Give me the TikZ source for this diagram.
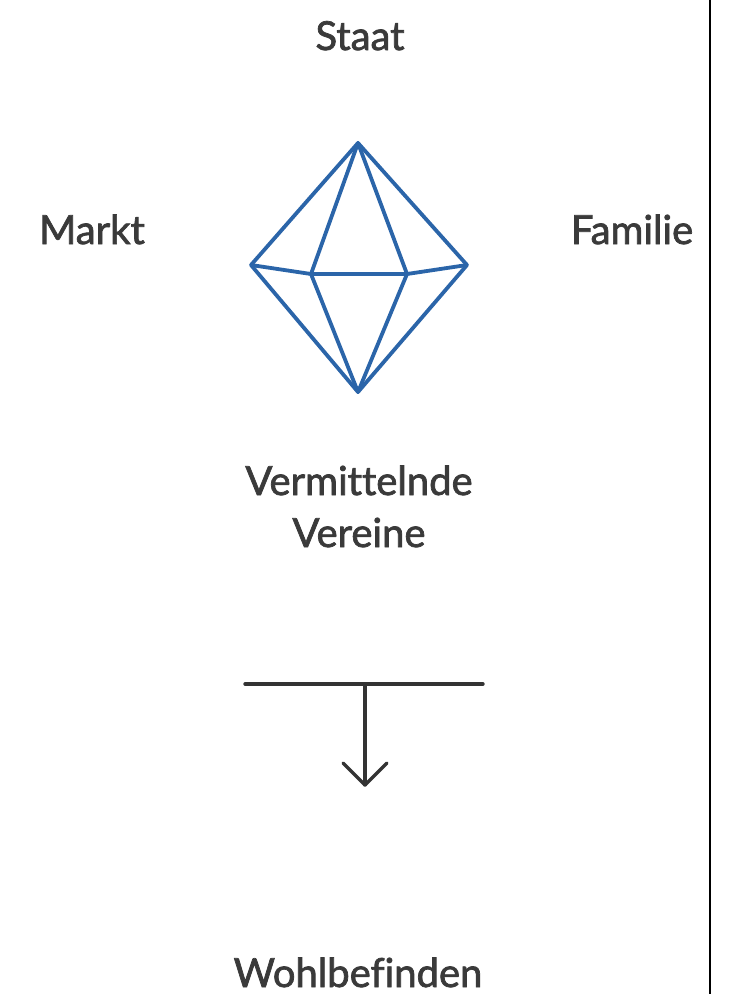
\documentclass[tikz,border=0pt]{standalone}
\usepackage{fontspec}
\newfontfamily\lblfont{Lato}[FakeBold=1.8, Ligatures=NoCommon]
\usetikzlibrary{arrows.meta}
\definecolor{txtgray}{HTML}{3A3A3A}
\definecolor{diablue}{HTML}{2B65A9}
\definecolor{arrgray}{HTML}{333333}
\tikzset{
  lbl/.style={anchor=base, text=txtgray, font=\lblfont\fontsize{40}{53}\selectfont, inner sep=0pt},
  edge/.style={draw=diablue, line width=3.8pt, line join=round, line cap=round},
  flow/.style={draw=arrgray, line width=3.4pt, line cap=round, line join=round}
}
\begin{document}
\begin{tikzpicture}[x=1pt,y=-1pt]
\useasboundingbox (0,0) rectangle (735,994);
% labels
\node[lbl] (staat) at (360,50) {Staat};
\node[lbl] (markt) at (92,244) {Markt};
\node[lbl] (familie) at (632,244) {Familie};
\node[lbl] (verm) at (359,495) {Vermittelnde};
\node[lbl] (ver) at (359,547) {Vereine};
\node[lbl] (wohl) at (358,987) {Wohlbefinden};
% diamond (octahedron)
\coordinate (T) at (358,143);
\coordinate (B) at (358,392);
\coordinate (L) at (251,265);
\coordinate (R) at (467,265);
\coordinate (IL) at (311,274);
\coordinate (IR) at (407,274);
\draw[edge] (T) -- (L) -- (B) -- (R) -- cycle;
\draw[edge] (T) -- (IL) -- (B);
\draw[edge] (T) -- (IR) -- (B);
\draw[edge] (L) -- (IL) -- (IR) -- (R);
% bar and arrow
\coordinate (barL) at (245,684);
\coordinate (barR) at (483,684);
\coordinate (barM) at (365,684);
\coordinate (tip) at (365,785);
\coordinate (armL) at (343,763);
\coordinate (armR) at (387,763);
\draw[flow] (barL) -- (barR);
\draw[flow] (barM) -- (tip);
\draw[flow] (armL) -- (tip) -- (armR);
% right rule
\coordinate (ruleT) at (710,0);
\coordinate (ruleB) at (710,994);
\draw[black, line width=2.2pt] (ruleT) -- (ruleB);
\end{tikzpicture}
\end{document}
